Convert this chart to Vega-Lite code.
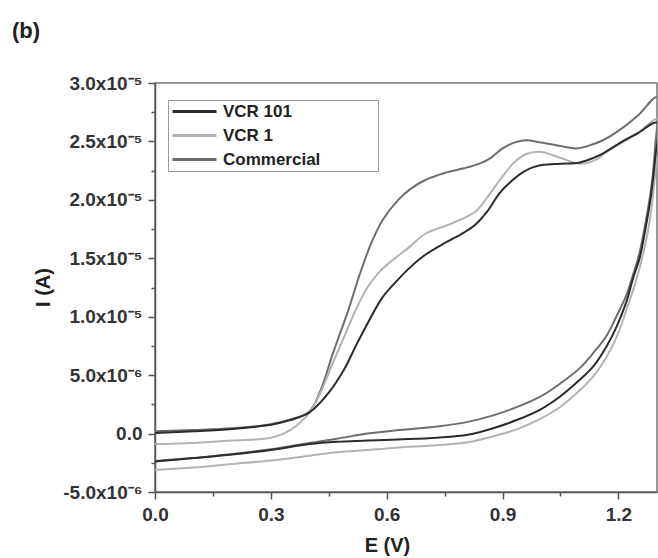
{
  "$schema": "https://vega.github.io/schema/vega-lite/v6.json",
  "autosize": {"type": "none"},
  "padding": {"left": 155, "top": 83, "right": 1, "bottom": 66},
  "width": 502,
  "height": 409,
  "background": "white",
  "title": {"text": "(b)", "anchor": "start", "frame": "group", "dx": -143, "offset": 31, "fontSize": 22, "font": "Liberation Sans", "fontWeight": "bold", "color": "#222"},
  "config": {
    "view": {"stroke": "#777", "strokeWidth": 1.5},
    "font": "Liberation Sans"
  },
  "data": {"values": [
    {"s":"Commercial","o":0,"E":0.00,"I":0.2e-6},
    {"s":"Commercial","o":1,"E":0.10,"I":0.3e-6},
    {"s":"Commercial","o":2,"E":0.20,"I":0.45e-6},
    {"s":"Commercial","o":3,"E":0.30,"I":0.8e-6},
    {"s":"Commercial","o":4,"E":0.35,"I":1.2e-6},
    {"s":"Commercial","o":5,"E":0.40,"I":1.9e-6},
    {"s":"Commercial","o":6,"E":0.43,"I":3.8e-6},
    {"s":"Commercial","o":7,"E":0.46,"I":6.8e-6},
    {"s":"Commercial","o":8,"E":0.50,"I":10.5e-6},
    {"s":"Commercial","o":9,"E":0.53,"I":13.6e-6},
    {"s":"Commercial","o":10,"E":0.56,"I":16.3e-6},
    {"s":"Commercial","o":11,"E":0.59,"I":18.3e-6},
    {"s":"Commercial","o":12,"E":0.63,"I":20.0e-6},
    {"s":"Commercial","o":13,"E":0.66,"I":20.9e-6},
    {"s":"Commercial","o":14,"E":0.70,"I":21.7e-6},
    {"s":"Commercial","o":15,"E":0.75,"I":22.3e-6},
    {"s":"Commercial","o":16,"E":0.80,"I":22.7e-6},
    {"s":"Commercial","o":17,"E":0.84,"I":23.1e-6},
    {"s":"Commercial","o":18,"E":0.87,"I":23.6e-6},
    {"s":"Commercial","o":19,"E":0.90,"I":24.4e-6},
    {"s":"Commercial","o":20,"E":0.93,"I":24.9e-6},
    {"s":"Commercial","o":21,"E":0.96,"I":25.1e-6},
    {"s":"Commercial","o":22,"E":1.00,"I":24.9e-6},
    {"s":"Commercial","o":23,"E":1.05,"I":24.6e-6},
    {"s":"Commercial","o":24,"E":1.09,"I":24.4e-6},
    {"s":"Commercial","o":25,"E":1.12,"I":24.6e-6},
    {"s":"Commercial","o":26,"E":1.16,"I":25.1e-6},
    {"s":"Commercial","o":27,"E":1.20,"I":25.9e-6},
    {"s":"Commercial","o":28,"E":1.25,"I":27.2e-6},
    {"s":"Commercial","o":29,"E":1.30,"I":28.8e-6},
    {"s":"Commercial","o":30,"E":1.295,"I":24.5e-6},
    {"s":"Commercial","o":31,"E":1.285,"I":21.0e-6},
    {"s":"Commercial","o":32,"E":1.27,"I":18.0e-6},
    {"s":"Commercial","o":33,"E":1.255,"I":15.5e-6},
    {"s":"Commercial","o":34,"E":1.24,"I":13.8e-6},
    {"s":"Commercial","o":35,"E":1.22,"I":11.8e-6},
    {"s":"Commercial","o":36,"E":1.196,"I":10.1e-6},
    {"s":"Commercial","o":37,"E":1.17,"I":8.4e-6},
    {"s":"Commercial","o":38,"E":1.135,"I":6.9e-6},
    {"s":"Commercial","o":39,"E":1.10,"I":5.6e-6},
    {"s":"Commercial","o":40,"E":1.05,"I":4.3e-6},
    {"s":"Commercial","o":41,"E":1.00,"I":3.2e-6},
    {"s":"Commercial","o":42,"E":0.94,"I":2.3e-6},
    {"s":"Commercial","o":43,"E":0.88,"I":1.6e-6},
    {"s":"Commercial","o":44,"E":0.81,"I":1.0e-6},
    {"s":"Commercial","o":45,"E":0.73,"I":0.6e-6},
    {"s":"Commercial","o":46,"E":0.63,"I":0.3e-6},
    {"s":"Commercial","o":47,"E":0.55,"I":0.0},
    {"s":"Commercial","o":48,"E":0.47,"I":-0.45e-6},
    {"s":"Commercial","o":49,"E":0.40,"I":-0.8e-6},
    {"s":"Commercial","o":50,"E":0.30,"I":-1.35e-6},
    {"s":"Commercial","o":51,"E":0.20,"I":-1.75e-6},
    {"s":"Commercial","o":52,"E":0.10,"I":-2.1e-6},
    {"s":"Commercial","o":53,"E":0.00,"I":-2.35e-6},

    {"s":"VCR 1","o":0,"E":0.00,"I":-0.9e-6},
    {"s":"VCR 1","o":1,"E":0.10,"I":-0.8e-6},
    {"s":"VCR 1","o":2,"E":0.20,"I":-0.6e-6},
    {"s":"VCR 1","o":3,"E":0.30,"I":-0.35e-6},
    {"s":"VCR 1","o":4,"E":0.35,"I":0.3e-6},
    {"s":"VCR 1","o":5,"E":0.40,"I":1.8e-6},
    {"s":"VCR 1","o":6,"E":0.43,"I":3.6e-6},
    {"s":"VCR 1","o":7,"E":0.46,"I":6.0e-6},
    {"s":"VCR 1","o":8,"E":0.49,"I":8.3e-6},
    {"s":"VCR 1","o":9,"E":0.52,"I":10.6e-6},
    {"s":"VCR 1","o":10,"E":0.55,"I":12.5e-6},
    {"s":"VCR 1","o":11,"E":0.58,"I":13.8e-6},
    {"s":"VCR 1","o":12,"E":0.61,"I":14.7e-6},
    {"s":"VCR 1","o":13,"E":0.66,"I":16.0e-6},
    {"s":"VCR 1","o":14,"E":0.70,"I":17.1e-6},
    {"s":"VCR 1","o":15,"E":0.77,"I":18.0e-6},
    {"s":"VCR 1","o":16,"E":0.83,"I":19.0e-6},
    {"s":"VCR 1","o":17,"E":0.86,"I":20.2e-6},
    {"s":"VCR 1","o":18,"E":0.893,"I":21.7e-6},
    {"s":"VCR 1","o":19,"E":0.93,"I":23.2e-6},
    {"s":"VCR 1","o":20,"E":0.96,"I":23.9e-6},
    {"s":"VCR 1","o":21,"E":1.00,"I":24.1e-6},
    {"s":"VCR 1","o":22,"E":1.05,"I":23.6e-6},
    {"s":"VCR 1","o":23,"E":1.10,"I":23.1e-6},
    {"s":"VCR 1","o":24,"E":1.14,"I":23.4e-6},
    {"s":"VCR 1","o":25,"E":1.17,"I":24.1e-6},
    {"s":"VCR 1","o":26,"E":1.21,"I":24.9e-6},
    {"s":"VCR 1","o":27,"E":1.25,"I":25.7e-6},
    {"s":"VCR 1","o":28,"E":1.30,"I":26.9e-6},
    {"s":"VCR 1","o":29,"E":1.298,"I":23.5e-6},
    {"s":"VCR 1","o":30,"E":1.29,"I":20.5e-6},
    {"s":"VCR 1","o":31,"E":1.28,"I":18.0e-6},
    {"s":"VCR 1","o":32,"E":1.265,"I":15.5e-6},
    {"s":"VCR 1","o":33,"E":1.245,"I":13.0e-6},
    {"s":"VCR 1","o":34,"E":1.22,"I":10.5e-6},
    {"s":"VCR 1","o":35,"E":1.196,"I":8.3e-6},
    {"s":"VCR 1","o":36,"E":1.17,"I":6.6e-6},
    {"s":"VCR 1","o":37,"E":1.135,"I":4.9e-6},
    {"s":"VCR 1","o":38,"E":1.10,"I":3.7e-6},
    {"s":"VCR 1","o":39,"E":1.05,"I":2.3e-6},
    {"s":"VCR 1","o":40,"E":1.00,"I":1.3e-6},
    {"s":"VCR 1","o":41,"E":0.94,"I":0.4e-6},
    {"s":"VCR 1","o":42,"E":0.88,"I":-0.2e-6},
    {"s":"VCR 1","o":43,"E":0.81,"I":-0.75e-6},
    {"s":"VCR 1","o":44,"E":0.73,"I":-1.0e-6},
    {"s":"VCR 1","o":45,"E":0.63,"I":-1.2e-6},
    {"s":"VCR 1","o":46,"E":0.55,"I":-1.4e-6},
    {"s":"VCR 1","o":47,"E":0.47,"I":-1.6e-6},
    {"s":"VCR 1","o":48,"E":0.40,"I":-1.9e-6},
    {"s":"VCR 1","o":49,"E":0.30,"I":-2.3e-6},
    {"s":"VCR 1","o":50,"E":0.20,"I":-2.6e-6},
    {"s":"VCR 1","o":51,"E":0.10,"I":-2.9e-6},
    {"s":"VCR 1","o":52,"E":0.00,"I":-3.1e-6},

    {"s":"VCR 101","o":0,"E":0.00,"I":0.05e-6},
    {"s":"VCR 101","o":1,"E":0.10,"I":0.2e-6},
    {"s":"VCR 101","o":2,"E":0.20,"I":0.4e-6},
    {"s":"VCR 101","o":3,"E":0.30,"I":0.75e-6},
    {"s":"VCR 101","o":4,"E":0.35,"I":1.15e-6},
    {"s":"VCR 101","o":5,"E":0.40,"I":1.8e-6},
    {"s":"VCR 101","o":6,"E":0.45,"I":3.5e-6},
    {"s":"VCR 101","o":7,"E":0.49,"I":5.5e-6},
    {"s":"VCR 101","o":8,"E":0.52,"I":7.5e-6},
    {"s":"VCR 101","o":9,"E":0.55,"I":9.4e-6},
    {"s":"VCR 101","o":10,"E":0.59,"I":11.7e-6},
    {"s":"VCR 101","o":11,"E":0.63,"I":13.2e-6},
    {"s":"VCR 101","o":12,"E":0.66,"I":14.2e-6},
    {"s":"VCR 101","o":13,"E":0.70,"I":15.3e-6},
    {"s":"VCR 101","o":14,"E":0.75,"I":16.3e-6},
    {"s":"VCR 101","o":15,"E":0.80,"I":17.2e-6},
    {"s":"VCR 101","o":16,"E":0.83,"I":17.9e-6},
    {"s":"VCR 101","o":17,"E":0.86,"I":19.0e-6},
    {"s":"VCR 101","o":18,"E":0.893,"I":20.6e-6},
    {"s":"VCR 101","o":19,"E":0.93,"I":21.8e-6},
    {"s":"VCR 101","o":20,"E":0.954,"I":22.4e-6},
    {"s":"VCR 101","o":21,"E":0.98,"I":22.8e-6},
    {"s":"VCR 101","o":22,"E":1.006,"I":23.0e-6},
    {"s":"VCR 101","o":23,"E":1.05,"I":23.1e-6},
    {"s":"VCR 101","o":24,"E":1.10,"I":23.2e-6},
    {"s":"VCR 101","o":25,"E":1.15,"I":23.8e-6},
    {"s":"VCR 101","o":26,"E":1.20,"I":24.8e-6},
    {"s":"VCR 101","o":27,"E":1.25,"I":25.7e-6},
    {"s":"VCR 101","o":28,"E":1.30,"I":26.6e-6},
    {"s":"VCR 101","o":29,"E":1.295,"I":23.5e-6},
    {"s":"VCR 101","o":30,"E":1.285,"I":20.5e-6},
    {"s":"VCR 101","o":31,"E":1.27,"I":17.5e-6},
    {"s":"VCR 101","o":32,"E":1.255,"I":15.0e-6},
    {"s":"VCR 101","o":33,"E":1.239,"I":13.4e-6},
    {"s":"VCR 101","o":34,"E":1.22,"I":11.2e-6},
    {"s":"VCR 101","o":35,"E":1.196,"I":9.2e-6},
    {"s":"VCR 101","o":36,"E":1.17,"I":7.5e-6},
    {"s":"VCR 101","o":37,"E":1.135,"I":5.75e-6},
    {"s":"VCR 101","o":38,"E":1.10,"I":4.6e-6},
    {"s":"VCR 101","o":39,"E":1.05,"I":3.2e-6},
    {"s":"VCR 101","o":40,"E":1.00,"I":2.1e-6},
    {"s":"VCR 101","o":41,"E":0.94,"I":1.2e-6},
    {"s":"VCR 101","o":42,"E":0.88,"I":0.5e-6},
    {"s":"VCR 101","o":43,"E":0.81,"I":-0.1e-6},
    {"s":"VCR 101","o":44,"E":0.73,"I":-0.35e-6},
    {"s":"VCR 101","o":45,"E":0.63,"I":-0.5e-6},
    {"s":"VCR 101","o":46,"E":0.55,"I":-0.6e-6},
    {"s":"VCR 101","o":47,"E":0.47,"I":-0.7e-6},
    {"s":"VCR 101","o":48,"E":0.40,"I":-0.9e-6},
    {"s":"VCR 101","o":49,"E":0.30,"I":-1.4e-6},
    {"s":"VCR 101","o":50,"E":0.20,"I":-1.8e-6},
    {"s":"VCR 101","o":51,"E":0.10,"I":-2.1e-6},
    {"s":"VCR 101","o":52,"E":0.00,"I":-2.4e-6}
  ]},
  "mark": {"type": "line", "interpolate": "catmull-rom", "strokeWidth": 2, "clip": true},
  "encoding": {
    "x": {
      "field": "E", "type": "quantitative",
      "scale": {"domain": [0, 1.3], "nice": false, "zero": false},
      "axis": {
        "title": "E (V)",
        "values": [0, 0.15, 0.3, 0.45, 0.6, 0.75, 0.9, 1.05, 1.2],
        "labelExpr": "abs(round(datum.value/0.15)) % 2 == 1 ? '' : format(datum.value, '.1f')",
        "grid": false,
        "tickSize": {"condition": {"test": "abs(round(datum.value/0.15)) % 2 == 1", "value": 4}, "value": 7},
        "tickColor": "#555", "tickWidth": 1.5,
        "domainColor": "#555", "domainWidth": 1.5,
        "labelFont": "Liberation Sans", "labelFontSize": 19, "labelFontWeight": "bold", "labelColor": "#333",
        "labelPadding": 6, "labelFlush": false,
        "titleFont": "Liberation Sans", "titleFontSize": 20, "titleFontWeight": "bold", "titleColor": "#222",
        "titleX": 232, "titleY": 53, "titleBaseline": "middle"
      }
    },
    "y": {
      "field": "I", "type": "quantitative",
      "scale": {"domain": [-5e-6, 3e-5], "nice": false, "zero": false},
      "axis": {
        "title": "I (A)",
        "values": [-5e-6, -2.5e-6, 0, 2.5e-6, 5e-6, 7.5e-6, 1e-5, 1.25e-5, 1.5e-5, 1.75e-5, 2e-5, 2.25e-5, 2.5e-5, 2.75e-5, 3e-5],
        "labelExpr": "abs(round(datum.value/2.5e-6)) % 2 == 1 ? '' : (datum.value == 0 ? '0.0' : (abs(datum.value) >= 9.9e-6 ? (datum.value < 0 ? '-' : '') + format(abs(datum.value)/1e-5, '.1f') + 'x10⁻⁵' : (datum.value < 0 ? '-' : '') + format(abs(datum.value)/1e-6, '.1f') + 'x10⁻⁶'))",
        "grid": false,
        "tickSize": {"condition": {"test": "abs(round(datum.value/2.5e-6)) % 2 == 1", "value": 4}, "value": 7},
        "tickColor": "#555", "tickWidth": 1.5,
        "domainColor": "#555", "domainWidth": 1.5,
        "labelFont": "Liberation Sans", "labelFontSize": 19, "labelFontWeight": "bold", "labelColor": "#333",
        "labelPadding": 6, "labelFlush": false,
        "titleFont": "Liberation Sans", "titleFontSize": 20, "titleFontWeight": "bold", "titleColor": "#222",
        "titleX": -112, "titleY": 204, "titleBaseline": "middle", "titleAngle": -90
      }
    },
    "color": {
      "field": "s", "type": "nominal",
      "scale": {"domain": ["VCR 101", "VCR 1", "Commercial"], "range": ["#2b2b2b", "#b3b3b3", "#6e6e6e"]},
      "legend": {
        "title": null,
        "orient": "none", "legendX": 13, "legendY": 17,
        "symbolType": "stroke", "symbolSize": 1936, "symbolStrokeWidth": 3,
        "clipHeight": 17,
        "labelFont": "Liberation Sans", "labelFontSize": 17, "labelFontWeight": "bold", "labelColor": "#222",
        "labelOffset": 5, "rowPadding": 6, "padding": 3, "labelLimit": 400,
        "strokeColor": "#999", "fillColor": "white",
        "labelExpr": "datum.label + '\u00a0\u00a0\u00a0\u00a0\u00a0\u00a0\u00a0\u00a0\u00a0\u2800'"
      }
    },
    "order": {"field": "o", "type": "quantitative"}
  }
}
